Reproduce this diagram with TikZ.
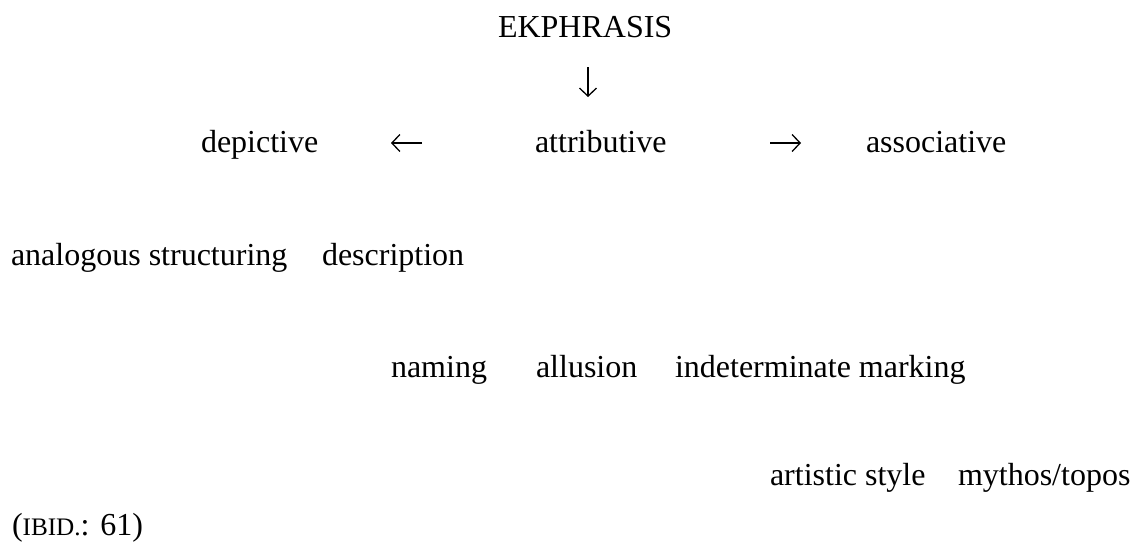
\documentclass[tikz,border=0pt]{standalone}
\usepackage{fontspec}
\setmainfont{Liberation Serif}
\usetikzlibrary{arrows.meta}
\begin{document}
\begin{tikzpicture}[x=0.5pt,y=-0.5pt,
  txt/.style={anchor=base west, inner sep=0pt, outer sep=0pt, font=\fontsize{16}{19}\selectfont},
  glypharrow/.style={line width=0.65pt, -{Straight Barb[length=4pt,width=8.5pt,line width=0.65pt]}}]
\useasboundingbox (0,0) rectangle (1131,546);
\node[txt] (ek) at (498,37) {EKPHRASIS};
\node[txt] (dep) at (201,152) {depictive};
\node[txt] (att) at (535,152) {attributive};
\node[txt] (ass) at (866,152) {associative};
\node[txt] (ana) at (11,265) {analogous structuring};
\node[txt] (des) at (322,265) {description};
\node[txt] (nam) at (391,377) {naming};
\node[txt] (all) at (536,377) {allusion};
\node[txt] (ind) at (675,377) {indeterminate marking};
\node[txt] (art) at (770,485) {artistic style};
\node[txt] (myt) at (958,485) {mythos/topos};
\node[txt] (ibid) at (12,535) {({\fontsize{12.6}{15}\selectfont IBID.}: 61)};
\coordinate (dtop) at (588,67);
\coordinate (dbot) at (588,97);
\coordinate (lr) at (422,143);
\coordinate (ll) at (391,143);
\coordinate (rl) at (770,143);
\coordinate (rr) at (801,143);
\draw[glypharrow] (dtop) -- (dbot);
\draw[glypharrow] (lr) -- (ll);
\draw[glypharrow] (rl) -- (rr);
\end{tikzpicture}
\end{document}
